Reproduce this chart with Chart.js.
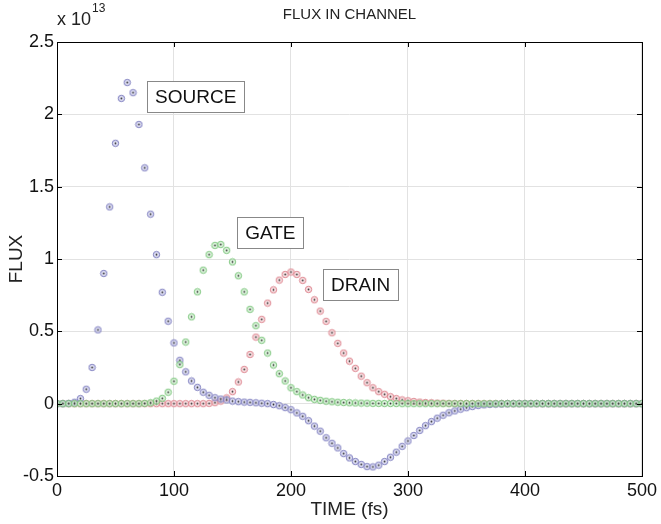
<!DOCTYPE html>
<html>
<head>
<meta charset="utf-8">
<script src="https://cdn.jsdelivr.net/npm/chart.js@4/dist/chart.umd.min.js"></script>
<style>
  body { margin: 0; background: #fff; }
  #wrap { width: 661px; height: 524px; }
</style>
</head>
<body>
<div id="wrap"><canvas id="fluxChart" width="661" height="524"></canvas></div>
<script>
// time samples (fs)
const TIME = [
  0, 5, 10, 15, 20, 25, 30, 35, 40, 45, 50, 55, 60, 65, 70, 75, 80, 85, 90, 95,
  100, 105, 110, 115, 120, 125, 130, 135, 140, 145, 150, 155, 160, 165, 170, 175, 180, 185, 190, 195,
  200, 205, 210, 215, 220, 225, 230, 235, 240, 245, 250, 255, 260, 265, 270, 275, 280, 285, 290, 295,
  300, 305, 310, 315, 320, 325, 330, 335, 340, 345, 350, 355, 360, 365, 370, 375, 380, 385, 390, 395,
  400, 405, 410, 415, 420, 425, 430, 435, 440, 445, 450, 455, 460, 465, 470, 475, 480, 485, 490, 495,
  500
];

// flux values in units of 1e13
const EXPONENT = 13;
const SOURCE = [
  0, 0, 0.002, 0.01, 0.035, 0.10, 0.25, 0.51, 0.90, 1.36, 1.80, 2.11, 2.22, 2.15, 1.93, 1.63, 1.31, 1.03, 0.77, 0.57,
  0.42, 0.30, 0.22, 0.157, 0.113, 0.079, 0.058, 0.041, 0.032, 0.026, 0.018, 0.014, 0.011, 0.009, 0.006, 0.003, 0.0, -0.006, -0.014, -0.027,
  -0.042, -0.064, -0.087, -0.118, -0.155, -0.19, -0.236, -0.274, -0.306, -0.345, -0.375, -0.40, -0.42, -0.435, -0.437, -0.425, -0.40, -0.37, -0.335, -0.295,
  -0.258, -0.22, -0.185, -0.152, -0.124, -0.10, -0.08, -0.063, -0.05, -0.038, -0.028, -0.02, -0.013, -0.008, -0.005, -0.003, -0.002, -0.001, 0, 0,
  0, 0, 0, 0, 0, 0, 0, 0, 0, 0, 0, 0, 0, 0, 0, 0, 0, 0, 0, 0,
  0
];
const GATE = [
  0, 0, 0, 0, 0, 0, 0, 0, 0, 0, 0, 0, 0, 0, 0, 0.002, 0.006, 0.018, 0.037, 0.079,
  0.155, 0.27, 0.426, 0.60, 0.773, 0.923, 1.03, 1.094, 1.10, 1.06, 0.98, 0.884, 0.773, 0.652, 0.539, 0.438, 0.35, 0.267, 0.207, 0.157,
  0.11, 0.083, 0.06, 0.041, 0.03, 0.023, 0.017, 0.013, 0.01, 0.008, 0.006, 0.005, 0.004, 0.003, 0.002, 0.002, 0.001, 0.001, 0.001, 0,
  0, 0, 0, 0, 0, 0, 0, 0, 0, 0, 0, 0, 0, 0, 0, 0, 0, 0, 0, 0,
  0, 0, 0, 0, 0, 0, 0, 0, 0, 0, 0, 0, 0, 0, 0, 0, 0, 0, 0, 0,
  0
];
const DRAIN = [
  0, 0, 0, 0, 0, 0, 0, 0, 0, 0, 0, 0, 0, 0, 0, 0, 0, 0, 0, 0,
  0, 0, 0, 0, 0, 0, 0.002, 0.007, 0.018, 0.04, 0.083, 0.15, 0.237, 0.34, 0.46, 0.583, 0.695, 0.787, 0.854, 0.893,
  0.91, 0.893, 0.852, 0.79, 0.718, 0.64, 0.569, 0.49, 0.417, 0.35, 0.294, 0.244, 0.19, 0.145, 0.11, 0.083, 0.065, 0.048, 0.035, 0.026,
  0.02, 0.015, 0.011, 0.008, 0.006, 0.004, 0.003, 0.002, 0.001, 0.001, 0, 0, 0, 0, 0, 0, 0, 0, 0, 0,
  0, 0, 0, 0, 0, 0, 0, 0, 0, 0, 0, 0, 0, 0, 0, 0, 0, 0, 0, 0,
  0
];

// text boxes: label, left time, top flux
const LABELS = ["SOURCE", "GATE", "DRAIN"];
const LABEL_X = [77, 154, 227.4];
const LABEL_Y = [2.229, 1.288, 0.93];

const FONT = "'Liberation Sans', Arial, Helvetica, sans-serif";

// circle marker with a dark centre dot
function marker(stroke, fill) {
  const c = document.createElement("canvas");
  c.width = 9;
  c.height = 9;
  const g = c.getContext("2d");
  g.beginPath();
  g.arc(4.5, 4.5, 3.2, 0, Math.PI * 2);
  g.fillStyle = fill;
  g.fill();
  g.lineWidth = 1;
  g.strokeStyle = stroke;
  g.stroke();
  g.beginPath();
  g.arc(4.5, 4.5, 0.9, 0, Math.PI * 2);
  g.fillStyle = "#333";
  g.fill();
  return c;
}

function points(values) {
  return TIME.map((t, i) => ({ x: t, y: values[i] }));
}

const decorations = {
  id: "decorations",
  afterDraw(chart) {
    const ctx = chart.ctx;
    const a = chart.chartArea;
    const xs = chart.scales.x;
    const ys = chart.scales.y;
    ctx.save();

    // axes box
    ctx.strokeStyle = "#000";
    ctx.lineWidth = 1;
    ctx.strokeRect(Math.round(a.left) + 0.5, Math.round(a.top) + 0.5,
      Math.round(a.right - a.left), Math.round(a.bottom - a.top));

    // inward tick marks on all four sides
    ctx.beginPath();
    xs.ticks.forEach((tk) => {
      const px = Math.round(xs.getPixelForValue(tk.value)) + 0.5;
      ctx.moveTo(px, a.bottom);
      ctx.lineTo(px, a.bottom - 5);
      ctx.moveTo(px, a.top);
      ctx.lineTo(px, a.top + 5);
    });
    ys.ticks.forEach((tk) => {
      const py = Math.round(ys.getPixelForValue(tk.value)) + 0.5;
      ctx.moveTo(a.left, py);
      ctx.lineTo(a.left + 5, py);
      ctx.moveTo(a.right, py);
      ctx.lineTo(a.right - 5, py);
    });
    ctx.stroke();

    // label boxes
    ctx.font = "19px " + FONT;
    ctx.textBaseline = "middle";
    ctx.textAlign = "left";
    LABELS.forEach((txt, i) => {
      const x0 = xs.getPixelForValue(LABEL_X[i]);
      const y0 = ys.getPixelForValue(LABEL_Y[i]);
      const w = ctx.measureText(txt).width + 16;
      const h = 31;
      ctx.fillStyle = "#fff";
      ctx.fillRect(x0, y0, w, h);
      ctx.strokeStyle = "#888";
      ctx.strokeRect(Math.round(x0) + 0.5, Math.round(y0) + 0.5, Math.round(w), h);
      ctx.fillStyle = "#111";
      ctx.fillText(txt, x0 + 8, y0 + h / 2 + 1);
    });

    // title
    ctx.fillStyle = "#222";
    ctx.textAlign = "center";
    ctx.font = "15px " + FONT;
    ctx.fillText("FLUX IN CHANNEL", (a.left + a.right) / 2, 15);

    // axis titles
    ctx.font = "19px " + FONT;
    ctx.fillText("TIME (fs)", (a.left + a.right) / 2, 510);
    ctx.save();
    ctx.translate(17, (a.top + a.bottom) / 2);
    ctx.rotate(-Math.PI / 2);
    ctx.fillText("FLUX", 0, 0);
    ctx.restore();

    // exponent label
    ctx.textAlign = "left";
    ctx.font = "18px " + FONT;
    ctx.fillText("x 10", a.left, 20);
    const w10 = ctx.measureText("x 10").width;
    ctx.font = "12px " + FONT;
    ctx.fillText(String(EXPONENT), a.left + w10 + 1, 9);

    ctx.restore();
  },
};

new Chart(document.getElementById("fluxChart").getContext("2d"), {
  type: "scatter",
  data: {
    datasets: [
      {
        label: "SOURCE",
        data: points(SOURCE),
        pointStyle: marker("rgb(125, 125, 190)", "rgba(200, 200, 235, 0.6)"),
        order: 1,
      },
      {
        label: "DRAIN",
        data: points(DRAIN),
        pointStyle: marker("rgb(220, 130, 140)", "rgba(245, 205, 210, 0.6)"),
        order: 2,
      },
      {
        label: "GATE",
        data: points(GATE),
        pointStyle: marker("rgb(120, 195, 120)", "rgba(205, 240, 205, 0.6)"),
        order: 0,
      },
    ],
  },
  options: {
    responsive: false,
    animation: false,
    layout: { padding: { top: 42, right: 19, left: 0, bottom: 0 } },
    plugins: {
      legend: { display: false },
      title: { display: false },
      tooltip: { enabled: false },
    },
    scales: {
      x: {
        type: "linear",
        min: 0,
        max: 500,
        ticks: {
          stepSize: 100,
          padding: 4,
          color: "#111",
          font: { family: FONT, size: 18 },
          callback: (v) => String(v),
        },
        grid: { color: "#e2e2e2", drawTicks: false },
        border: { display: false },
        afterFit: (scale) => { scale.height = 48; },
      },
      y: {
        type: "linear",
        min: -0.5,
        max: 2.5,
        ticks: {
          stepSize: 0.5,
          padding: 3,
          color: "#111",
          font: { family: FONT, size: 18 },
          callback: (v) => String(v),
        },
        grid: { color: "#e2e2e2", drawTicks: false },
        border: { display: false },
        afterFit: (scale) => { scale.width = 57; },
      },
    },
  },
  plugins: [decorations],
});
</script>
</body>
</html>
